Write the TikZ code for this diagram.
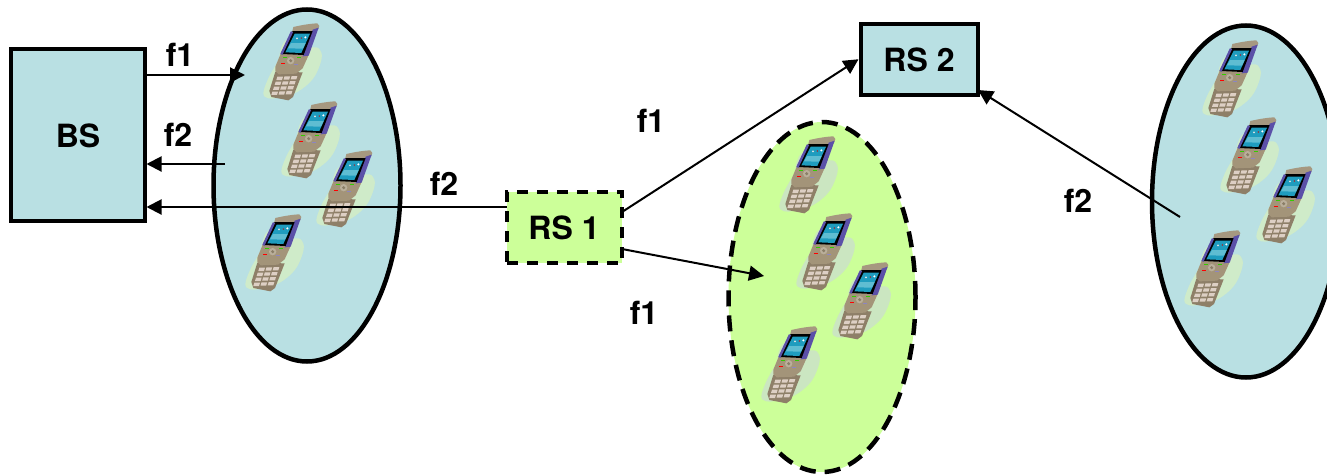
\documentclass[tikz,border=0pt]{standalone}
\usepackage{fontspec}
\setmainfont{TeX Gyre Heros}
\usetikzlibrary{arrows.meta,shapes.geometric,calc}
\definecolor{teal}{HTML}{B9E0E3}
\definecolor{lime}{HTML}{CCFF99}
\definecolor{haloblue}{HTML}{CFEBC9}
\definecolor{halogreen}{HTML}{CBE6C1}
\definecolor{pbody}{HTML}{8E7F68}
\definecolor{pmid}{HTML}{A39479}
\definecolor{phead}{HTML}{A69880}
\definecolor{pscreen}{HTML}{1F9CBE}
\definecolor{pscreenl}{HTML}{5FBDD2}
\definecolor{ppurple}{HTML}{5B50A8}
\definecolor{pkey}{HTML}{DDCFC4}
\tikzset{
  box/.style={draw=black,line width=4pt,inner sep=0pt},
  blob/.style={ellipse,draw=black,line width=4.5pt,inner sep=0pt},
  dashbox/.style={dash pattern=on 11pt off 9pt},
  dashblob/.style={dash pattern=on 16pt off 9pt},
  lbl/.style={font=\fontsize{32}{36}\selectfont\bfseries,inner sep=0pt},
  conn/.style={line width=2pt,-{Triangle[length=15pt,width=15pt]}}
}
\newcommand{\phoneat}[3]{%
\begin{scope}[shift={(#1,#2)},x=0.3333pt,y=-0.3333pt,shift={(-96,-138)}]
  \fill[#3] plot[smooth cycle,tension=.6] coordinates {(78,75) (60,110) (55,135) (25,190) (10,235) (25,250) (55,248) (110,232) (160,190) (185,130) (176,100) (150,95) (125,70)};
  \fill[pbody] (46,170) -- (28,228) -- (34,246) -- (85,256) -- (99,246) -- (128,172) -- cycle;
  \foreach \r in {0,1,2,3}{\foreach \c in {0,1,2}{%
    \pgfmathsetmacro{\kx}{59+21.5*\c-5*\r}
    \pgfmathsetmacro{\ky}{190+15*\r-\c}
    \fill[pkey] (\kx-7,\ky-5) -- (\kx+10,\ky-5) -- (\kx+7,\ky+5) -- (\kx-10,\ky+5) -- cycle;
  }}
  \fill[pmid] (62,116) -- (146,120) -- (128,160) -- (108,176) -- (56,178) -- (46,168) -- (46,155) -- cycle;
  \fill[phead] (100,36) .. controls (125,30) and (150,26) .. (172,25) -- (178,33) -- (174,44) -- (158,52) -- (96,52) -- cycle;
  \fill[ppurple] (158,44) -- (176,38) -- (146,122) -- (128,124) -- cycle;
  \fill[black] (98,48) -- (158,48) -- (131,120) -- (66,117) -- cycle;
  \fill[pscreen] (104,56) -- (150,56) -- (124,114) -- (76,112) -- cycle;
  \fill[pscreenl] (93,84) -- (137,84) -- (129,101) -- (84,100) -- cycle;
  \draw[ppurple,line width=2.4pt] (96,50) -- (64,118);
  \fill[white!80!gray] (111,70) circle (3);
  \fill[red!80!black] (124,69) circle (2);
  \fill[white] (136,67) circle (3.5);
  \fill[pmid!75!white] (92,137) circle (11);
  \fill[pmid!85!black] (92,137) circle (5);
  \fill[green!60!olive] (68,127) rectangle (80,130);
  \fill[green!60!olive] (111,127) rectangle (123,130);
  \fill[red] (63,144) rectangle (76,147);
  \fill[ppurple!70!white] (102,147) rectangle (115,150);
\end{scope}}
\begin{document}
\begin{tikzpicture}[x=1pt,y=-1pt]
\clip (0,0) rectangle (1327,474);
\fill[white] (0,0) rectangle (1327,474);
% ellipses
\node[blob,fill=teal,minimum width=187pt,minimum height=352pt] (e1) at (307,185.5) {};
\node[blob,dashblob,fill=lime,minimum width=187pt,minimum height=350pt] (e2) at (822,297) {};
\node[blob,fill=teal,minimum width=188pt,minimum height=352pt] (e3) at (1246,201.5) {};
% phones
\phoneat{292}{61}{haloblue}
\phoneat{310}{139}{haloblue}
\phoneat{345}{188}{haloblue}
\phoneat{274}{252}{haloblue}
\phoneat{808}{174}{halogreen}
\phoneat{825}{251}{halogreen}
\phoneat{861}{300}{halogreen}
\phoneat{790}{364}{halogreen}
\phoneat{1231}{78}{haloblue}
\phoneat{1249}{155}{haloblue}
\phoneat{1285}{204}{haloblue}
\phoneat{1213}{268}{haloblue}
% boxes
\node[box,fill=teal,minimum width=133.5pt,minimum height=171.5pt] (bs) at (77.75,134.75) {};
\node[lbl] (tbs) at (78,136) {BS};
\node[box,dashbox,fill=lime,minimum width=115pt,minimum height=71pt] (rs1) at (564.5,227.5) {};
\node[lbl] (trs1) at (564,228) {RS 1};
\node[box,fill=teal,minimum width=117pt,minimum height=70.5pt] (rs2) at (919,59.25) {};
\node[lbl] (trs2) at (919,60) {RS 2};
% connector ends
\coordinate (a1) at (245,75);
\coordinate (a2) at (225,164);
\coordinate (a3) at (507,207);
\coordinate (b1) at (622,212);
\coordinate (b2) at (622,249);
\coordinate (b3) at (764,276);
\coordinate (c1) at (1180,217);
\coordinate (c2) at (978,90);
% connectors
\draw[conn] (bs.east |- a1) -- (a1);
\draw[conn] (a2) -- (bs.east |- a2);
\draw[conn] (a3) -- (bs.east |- a3);
\draw[conn] (b1) -- (rs2.west);
\draw[conn] (b2) -- (b3);
\draw[conn] (c1) -- (c2);
% labels
\node[lbl] (l1) at (180,55) {f1};
\node[lbl] (l2) at (178,135) {f2};
\node[lbl] (l3) at (444,184) {f2};
\node[lbl] (l4) at (651,121) {f1};
\node[lbl] (l5) at (644,313) {f1};
\node[lbl] (l6) at (1078,201) {f2};
\end{tikzpicture}
\end{document}
